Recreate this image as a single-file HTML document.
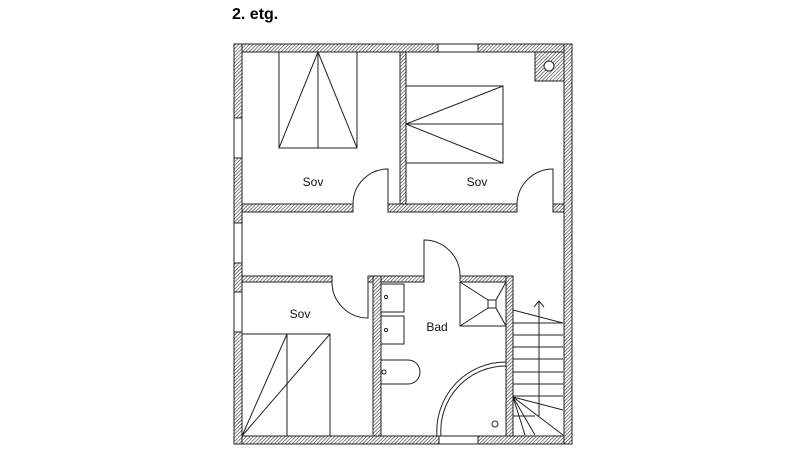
<!DOCTYPE html>
<html><head><meta charset="utf-8"><style>
body{margin:0;background:#fff;width:800px;height:450px;overflow:hidden}
</style></head><body>
<svg width="800" height="450" xmlns="http://www.w3.org/2000/svg" style="position:absolute;left:0;top:0">
<defs>
<pattern id="h" patternUnits="userSpaceOnUse" width="2.5" height="2.5" patternTransform="rotate(45)">
<rect width="2.5" height="2.5" fill="#fff"/><line x1="0" y1="0" x2="0" y2="2.5" stroke="#333" stroke-width="1.2"/>
</pattern>
</defs>
<text x="232" y="19" font-family="Liberation Sans, sans-serif" font-weight="bold" font-size="16">2. etg.</text>
<g fill="url(#h)" stroke="#222" stroke-width="1">
<rect x="234" y="44" width="338" height="8"/>
<rect x="234" y="436" width="338" height="8"/>
<rect x="234" y="44" width="8" height="400"/>
<rect x="564" y="44" width="8" height="400"/>
<rect x="400" y="52" width="6" height="158"/>
<rect x="242" y="204" width="111" height="8"/>
<rect x="388" y="204" width="129" height="8"/>
<rect x="553" y="204" width="11" height="8"/>
<rect x="242" y="276" width="90" height="6"/>
<rect x="368" y="276" width="56" height="6"/>
<rect x="460" y="276" width="53" height="6"/>
<rect x="373" y="276" width="8" height="160"/>
<rect x="506" y="276" width="7" height="160"/>
<rect x="535" y="52" width="29" height="29"/>
</g>
<g fill="#fff" stroke="#222" stroke-width="1">
<rect x="438" y="44" width="40" height="8"/>
<rect x="439" y="436" width="39" height="8"/>
<rect x="234" y="118" width="8" height="40"/>
<rect x="234" y="223" width="8" height="40"/>
<rect x="234" y="292" width="8" height="40"/>
<circle cx="549" cy="66" r="5"/>
</g>
<g fill="none" stroke="#222" stroke-width="1">
<path d="M388 204 V169 A35 35 0 0 0 353 204"/>
<path d="M553 204 V169 A36 36 0 0 0 517 204"/>
<path d="M368 282 V318 A36 36 0 0 1 332 282"/>
<path d="M424 276 V240 A36 36 0 0 1 460 276"/>
<rect x="279" y="52" width="78" height="96"/>
<path d="M318 52 V148 M279 148 L318 52 L357 148"/>
<rect x="406" y="86" width="97" height="77"/>
<path d="M406 124 H503 M503 86 L406 124 L503 163"/>
<rect x="242" y="334" width="88" height="102"/>
<path d="M287 334 V436 M287 334 L242 436 L330 334"/>
<rect x="460" y="282" width="46" height="44"/>
<rect x="488" y="300" width="8" height="8"/>
<path d="M460 282 L488 300 M506 282 L496 300 M460 326 L488 308 M506 326 L496 308"/>
<rect x="381" y="284" width="23" height="28"/>
<rect x="381" y="316" width="23" height="28"/>
<circle cx="386" cy="297" r="1.6"/><circle cx="386" cy="330" r="1.6"/>
<path d="M381 360 H408 A12 12 0 0 1 408 384 H381"/>
<circle cx="384" cy="372" r="2"/>
<path d="M437 436 A69 69 0 0 1 506 362"/>
<path d="M441 436 A65 65 0 0 1 506 366"/>
<circle cx="495" cy="424" r="3"/>
<path d="M513 310 L563 323 M513 335 H563 M513 347 H563 M513 359 H563 M513 372 H563 M513 384 H563 M513 396 H563 M513 323 H563"/>
<path d="M513 397 L563 410 M513 397 L563 435 M513 397 L535 435 M513 397 L525 435 M513 416 H535"/>
<path d="M539 416 V301 M534 307 L539 301 L544 307"/>
</g>
<g font-family="Liberation Sans, sans-serif" font-size="12" fill="#111" text-anchor="middle">
<text x="313" y="186">Sov</text>
<text x="477" y="186">Sov</text>
<text x="300" y="318">Sov</text>
<text x="437" y="331">Bad</text>
</g>
</svg>
</body></html>
